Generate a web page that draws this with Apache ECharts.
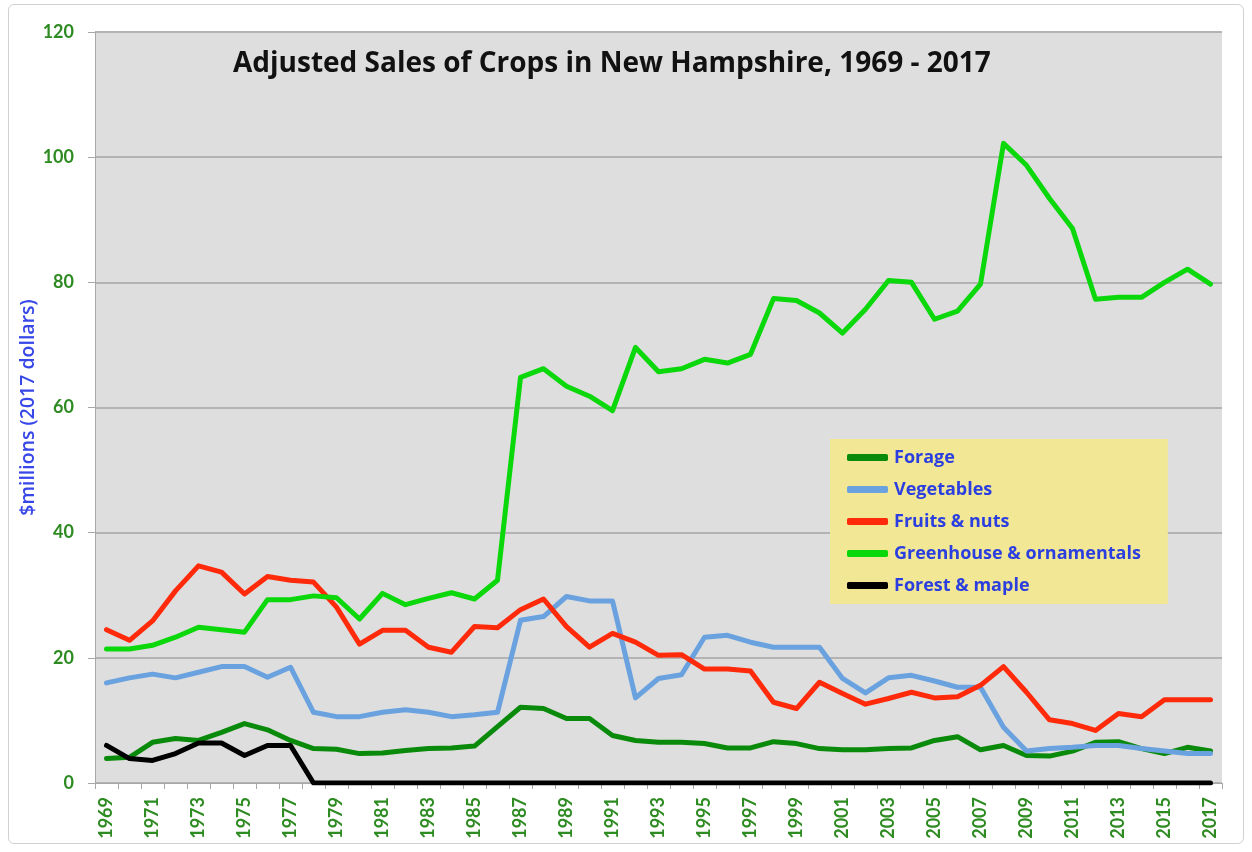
<!DOCTYPE html>
<html>
<head>
<meta charset="utf-8">
<script src="https://cdn.jsdelivr.net/npm/echarts@6/dist/echarts.min.js"></script>
<style>
html,body{margin:0;padding:0;background:#fff;}
#wrap{position:absolute;left:8px;top:4px;width:1236px;height:840px;border:1px solid #d0d0d0;border-radius:6px;box-sizing:border-box;}
#chart{position:absolute;left:0;top:0;width:1252px;height:852px;}
</style>
</head>
<body>
<div id="wrap"></div>
<div id="chart"></div>
<script>
const years = [];
for (let y = 1969; y <= 2017; y++) years.push(String(y));

const forage = [3.9,4.1,6.5,7.1,6.8,8.1,9.5,8.5,6.8,5.5,5.4,4.7,4.8,5.2,5.5,5.6,5.9,9.0,12.1,11.9,10.3,10.3,7.6,6.8,6.5,6.5,6.3,5.6,5.6,6.6,6.3,5.5,5.3,5.3,5.5,5.6,6.8,7.4,5.3,6.0,4.4,4.3,5.1,6.5,6.6,5.5,4.7,5.7,5.1];
const vegetables = [16.0,16.8,17.4,16.8,17.7,18.6,18.6,16.9,18.5,11.3,10.6,10.6,11.3,11.7,11.3,10.6,10.9,11.3,26.0,26.6,29.8,29.1,29.1,13.6,16.7,17.3,23.3,23.6,22.5,21.7,21.7,21.7,16.7,14.4,16.8,17.2,16.3,15.3,15.3,8.9,5.1,5.5,5.7,6.0,6.0,5.5,5.1,4.7,4.7];
const fruits = [24.5,22.8,25.9,30.7,34.7,33.7,30.2,33.0,32.4,32.1,28.1,22.2,24.4,24.4,21.7,20.9,25.0,24.8,27.7,29.4,25.0,21.7,23.9,22.5,20.4,20.5,18.2,18.2,17.9,12.9,11.9,16.1,14.3,12.6,13.5,14.5,13.6,13.8,15.6,18.6,14.5,10.1,9.5,8.4,11.1,10.6,13.3,13.3,13.3];
const greenhouse = [21.4,21.4,22.0,23.3,24.9,24.5,24.1,29.3,29.3,29.9,29.6,26.2,30.3,28.5,29.5,30.4,29.4,32.4,64.8,66.2,63.4,61.8,59.5,69.6,65.7,66.2,67.7,67.1,68.5,77.4,77.1,75.1,71.9,75.7,80.3,80.0,74.1,75.4,79.7,102.2,98.7,93.4,88.6,77.3,77.6,77.6,80.0,82.1,79.7];
const forest = [6.0,3.9,3.6,4.7,6.4,6.4,4.4,6.0,6.0,0,0,0,0,0,0,0,0,0,0,0,0,0,0,0,0,0,0,0,0,0,0,0,0,0,0,0,0,0,0,0,0,0,0,0,0,0,0,0,0];

const seriesNames = ['Forage','Vegetables','Fruits & nuts','Greenhouse & ornamentals','Forest & maple'];
const seriesData = [forage, vegetables, fruits, greenhouse, forest];
const colors = ['#0a8a0a','#6aa2e0','#ff2a0a','#0ad80a','#000000'];

const chart = echarts.init(document.getElementById('chart'), null, {renderer:'canvas'});
chart.setOption({
  backgroundColor: 'transparent',
  animation: false,
  color: colors,
  title: {
    text: 'Adjusted Sales of Crops in New Hampshire, 1969 - 2017',
    left: 228, top: 45,
    textStyle: {fontFamily: 'Open Sans', fontWeight: 'bold', fontSize: 28, color: '#111'}
  },
  grid: {left: 95, right: 30, top: 32, bottom: 69, show: true, backgroundColor: '#dedede', borderWidth: 0},
  legend: {
    orient: 'vertical',
    left: 830, top: 439,
    backgroundColor: '#f2e795',
    padding: [8, 27, 8, 17],
    itemWidth: 41, itemHeight: 7, itemGap: 11,
    icon: 'roundRect',
    textStyle: {fontFamily: 'Open Sans', fontWeight: 'bold', fontSize: 18, color: '#2b3fe0', lineHeight: 21, padding: [0,0,0,1]},
    data: seriesNames
  },
  xAxis: {
    type: 'category',
    data: years,
    boundaryGap: true,
    axisLine: {lineStyle: {color: '#a8a8a8', width: 1}},
    axisTick: {show: true, length: 6, lineStyle: {color: '#a8a8a8'}, interval: 0},
    axisLabel: {interval: 1, rotate: 90, color: '#2e8b22', fontFamily: 'Lato', fontWeight: 'bold', fontSize: 18, margin: 14}
  },
  yAxis: {
    type: 'value',
    min: 0, max: 120, interval: 20,
    name: '$millions (2017 dollars)',
    nameLocation: 'middle',
    nameGap: 57,
    nameMoveOverlap: false,
    nameTextStyle: {color: '#3848e8', fontFamily: 'Open Sans', fontWeight: 600, fontSize: 19.5},
    axisLine: {show: true, lineStyle: {color: '#a8a8a8'}},
    axisTick: {show: true, length: 7, lineStyle: {color: '#a8a8a8'}},
    axisLabel: {color: '#2e8b22', fontFamily: 'Lato', fontWeight: 'bold', fontSize: 18, margin: 21},
    splitLine: {lineStyle: {color: '#b3b3b3', width: 2}}
  },
  series: seriesNames.map((n, i) => ({
    name: n,
    type: 'line',
    data: seriesData[i],
    showSymbol: false,
    symbol: 'none',
    lineStyle: {width: 5, color: colors[i], join: 'round', cap: 'round'},
    itemStyle: {color: colors[i]}
  }))
});
</script>
</body>
</html>
